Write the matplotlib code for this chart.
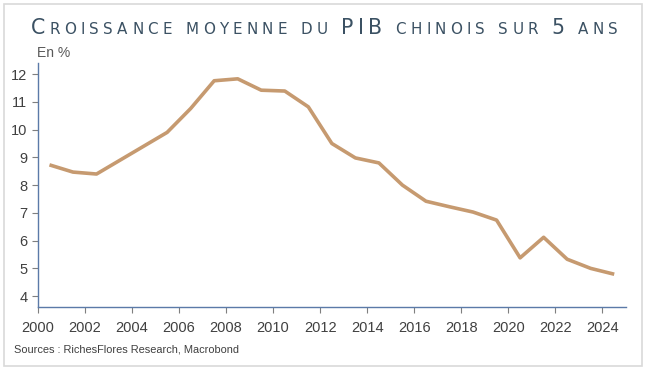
import matplotlib
matplotlib.use("Agg")
import matplotlib.pyplot as plt
from matplotlib.patches import Rectangle

# donnees (moyenne glissante 5 ans, points en milieu d'annee)
annees = [2000.5, 2001.5, 2002.5, 2003.5, 2004.5, 2005.5, 2006.5, 2007.5, 2008.5,
          2009.5, 2010.5, 2011.5, 2012.5, 2013.5, 2014.5, 2015.5, 2016.5, 2017.5,
          2018.5, 2019.5, 2020.5, 2021.5, 2022.5, 2023.5, 2024.5]
croissance = [8.73, 8.47, 8.40, 8.90, 9.40, 9.90, 10.76, 11.76, 11.83,
              11.42, 11.39, 10.82, 9.50, 8.98, 8.80, 8.00, 7.42, 7.22,
              7.03, 6.74, 5.38, 6.12, 5.33, 5.00, 4.79]
xticks = list(range(2000, 2025, 2))
yticks = list(range(4, 13))

titre = [("C", "big"), ("ROISSANCE MOYENNE DU ", "small"), ("PIB", "big"),
         (" CHINOIS SUR ", "small"), ("5", "big"), (" ANS", "small")]

W, H = 645, 372
fig = plt.figure(figsize=(W / 100, H / 100), dpi=100)
fig.patch.set_facecolor("white")

# cadre gris autour du graphique
fig.patches.append(Rectangle((4 / W, 1 - 366 / H), 638 / W, 362 / H,
                             transform=fig.transFigure, fill=False,
                             edgecolor="#d9d9d9", linewidth=1.2))

ax = fig.add_axes([37.7 / W, 1 - 306.7 / H, (626 - 37.7) / W, (306.7 - 63) / H])
ax.plot(annees, croissance, color="#c69a70", linewidth=2.6, solid_capstyle="butt")

ax.set_xlim(2000, 2025)
ax.set_ylim(3.62, 12.4)
ax.set_xticks(xticks)
ax.set_yticks(yticks)
for s in ["top", "right"]:
    ax.spines[s].set_visible(False)
for s in ["left", "bottom"]:
    ax.spines[s].set_color("#5b7aa8")
    ax.spines[s].set_linewidth(1.0)
ax.tick_params(axis="both", colors="#7f7f7f", labelcolor="#404040",
               labelsize=10.5, length=4, width=0.8)
ax.tick_params(axis="x", pad=6)
for lab in ax.get_xticklabels() + ax.get_yticklabels():
    lab.set_family("Liberation Sans")

fig.text(37 / W, 1 - 57 / H, "En %", fontsize=10, color="#595959",
         family="Liberation Sans", va="baseline")
fig.text(14 / W, 1 - 353 / H, "Sources : RichesFlores Research, Macrobond",
         fontsize=7.9, color="#404040", family="Liberation Sans", va="baseline")

# titre en petites capitales, lettre par lettre avec interlettrage
fig.canvas.draw()
renderer = fig.canvas.get_renderer()


def largeur(s, size):
    t = fig.text(0, 0, s, fontsize=size, family="DejaVu Sans")
    w = t.get_window_extent(renderer).width
    t.remove()
    return w


lettres = []
for txt, kind in titre:
    size = 14.8 if kind == "big" else 10.9
    for c in txt:
        if c == " ":
            w = largeur("n n", size) - largeur("nn", size)
        else:
            w = largeur(c, size)
        lettres.append((c, size, w))

x0, x1 = 31, 618
total = sum(l[2] for l in lettres)
track = (x1 - x0 - total) / (len(lettres) - 1)
x = x0
for c, size, w in lettres:
    if c != " ":
        fig.text(x / W, 1 - 33.5 / H, c, fontsize=size, color="#3b5163",
                 family="DejaVu Sans", va="baseline", ha="left")
    x += w + track

fig.savefig("out.png", dpi=100)
